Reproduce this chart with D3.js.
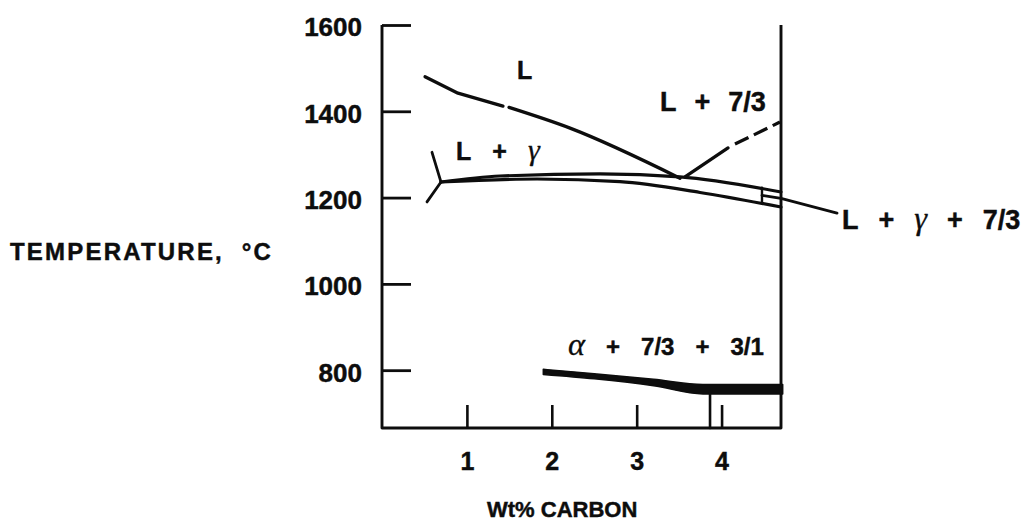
<!DOCTYPE html>
<html>
<head>
<meta charset="utf-8">
<script src="https://cdn.jsdelivr.net/npm/d3@7"></script>
<style>
  html, body { margin: 0; padding: 0; background: #ffffff; }
  svg { display: block; }
  text { font-family: "Liberation Sans", Arial, Helvetica, sans-serif; font-weight: bold; fill: #0d0d0d; stroke: #0d0d0d; stroke-width: 0.45px; }
</style>
</head>
<body>
<div id="chart"></div>
<script>
// ---------------- data ----------------
const xDomain = [0, 4.7];          // Wt% carbon
const yDomain = [666, 1600];       // temperature, °C
const xTicks = [1, 2, 3, 4];
const xTickLabels = ["1", "2", "3", "4"];
const yTicks = [800, 1000, 1200, 1400, 1600];
const yTickLabels = ["800", "1000", "1200", "1400", "1600"];

// liquidus (gamma side), two pieces with a small break
const liquidusGammaA = [[0.507, 1480], [0.895, 1442], [1.425, 1412]];
const liquidusGammaB = [[1.496, 1409], [2.215, 1361], [3.51, 1245]];
// liquidus (7/3 carbide side)
const liquidus73Solid = [[3.569, 1248], [4.076, 1315]];
const liquidus73Dashed = [[4.158, 1324], [4.688, 1375]];
// L + gamma / gamma band boundaries
const bandUpper = [[0.695, 1236], [1.39, 1250], [2.568, 1255], [3.51, 1248], [4.70, 1213]];
const bandLower = [[0.695, 1236], [1.826, 1243], [2.803, 1237], [3.746, 1212], [4.70, 1178]];
// branches at the junction
const branchUp = [[0.695, 1236], [0.589, 1305]];
const branchDown = [[0.695, 1236], [0.530, 1190]];
// three-phase sliver at right, with leader to its label
const sliverEdge = [[4.476, 1223], [4.476, 1187]];
const sliverLeader = [[4.476, 1205], [4.70, 1198], [5.36, 1164]];
// eutectoid (alpha + 7/3 + 3/1) thick band
const eutectoidWt = [1.90, 2.50, 3.20, 3.78, 4.72];
const eutectoidTop = [802, 792, 779, 767, 767];
const eutectoidBottom = [790, 780, 764, 745, 745];
const eutectoidDrop = [[3.864, 746], [3.864, 666]];

// labels
const yAxisTitle = "TEMPERATURE,  °C";
const xAxisTitle = "Wt% CARBON";
const labelL = ["L"];
const labelLGamma = ["L", "+", "γ"];
const labelL73 = ["L", "+", "7/3"];
const labelLGamma73 = ["L", "+", "γ", "+", "7/3"];
const labelAlpha = ["α", "+", "7/3", "+", "3/1"];

// ---------------- drawing ----------------
const W = 1030, H = 524;
const svg = d3.select("#chart").append("svg").attr("width", W).attr("height", H);
svg.append("rect").attr("width", W).attr("height", H).attr("fill", "#ffffff");

const x = d3.scaleLinear().domain(xDomain).range([382, 781]);
const y = d3.scaleLinear().domain(yDomain).range([428, 25]);

const ink = "#0d0d0d";

// y axis ticks (inside) and labels
const gy = svg.append("g").attr("transform", `translate(${x(0)},0)`)
  .call(d3.axisLeft(y).tickValues(yTicks).tickFormat((d, i) => yTickLabels[i])
    .tickSizeInner(-29).tickSizeOuter(0).tickPadding(20));
gy.select(".domain").remove();
gy.selectAll(".tick line").attr("stroke", ink).attr("stroke-width", 2.8);
gy.selectAll(".tick text").attr("dy", "0.42em").style("font-size", "26px")
  .style("font-family", '"Liberation Sans", Arial, sans-serif').style("font-weight", "bold")
  .attr("fill", ink).attr("stroke", ink).attr("stroke-width", 0.45);

// x axis ticks (inside) and labels
const gx = svg.append("g").attr("transform", `translate(0,${y(yDomain[0])})`)
  .call(d3.axisBottom(x).tickValues(xTicks).tickFormat((d, i) => xTickLabels[i])
    .tickSizeInner(-23).tickSizeOuter(0).tickPadding(24));
gx.select(".domain").remove();
gx.selectAll(".tick line").attr("stroke", ink).attr("stroke-width", 2.6);
gx.selectAll(".tick text").style("font-size", "25px")
  .style("font-family", '"Liberation Sans", Arial, sans-serif').style("font-weight", "bold")
  .attr("fill", ink).attr("stroke", ink).attr("stroke-width", 0.45);

// frame: left, bottom, right
svg.append("path")
  .attr("d", `M${x(0)},${y(1600)}V${y(yDomain[0])}H${x(xDomain[1])}V${y(1600)}`)
  .attr("fill", "none").attr("stroke", ink).attr("stroke-width", 2.9).attr("stroke-linejoin", "round");

const line = d3.line().x(d => x(d[0])).y(d => y(d[1]));
const smooth = d3.line().x(d => x(d[0])).y(d => y(d[1])).curve(d3.curveMonotoneX);

function drawPath(data, gen, width, dash) {
  const p = svg.append("path").attr("d", gen(data)).attr("fill", "none")
    .attr("stroke", ink).attr("stroke-width", width)
    .attr("stroke-linecap", "round").attr("stroke-linejoin", "round");
  if (dash) p.attr("stroke-dasharray", dash).attr("stroke-linecap", "butt");
  return p;
}

drawPath(liquidusGammaA, line, 3.3);
drawPath(liquidusGammaB, smooth, 3.3);
drawPath(liquidus73Solid, line, 3.3);
drawPath(liquidus73Dashed, line, 3.3, "15,6");
drawPath(bandUpper, smooth, 3.1);
drawPath(bandLower, smooth, 3.1);
drawPath(branchUp, line, 2.8);
drawPath(branchDown, line, 2.8);
drawPath(sliverEdge, line, 2.4);
drawPath(sliverLeader, line, 2.8);

// eutectoid thick band
const area = d3.area()
  .x((d, i) => x(eutectoidWt[i]))
  .y0((d, i) => y(eutectoidBottom[i]))
  .y1((d, i) => y(eutectoidTop[i]))
  .curve(d3.curveMonotoneX);
svg.append("path").attr("d", area(eutectoidWt))
  .attr("fill", ink).attr("stroke", ink).attr("stroke-width", 1.5).attr("stroke-linejoin", "round");
drawPath(eutectoidDrop, line, 2.6);

// axis titles
svg.append("text").attr("x", 10).attr("y", 260)
  .style("font-size", "24px").style("letter-spacing", "2.2px").style("white-space", "pre")
  .text(yAxisTitle);
svg.append("text").attr("x", 487).attr("y", 517)
  .style("font-size", "22px").text(xAxisTitle);

// phase-field labels
const greek = new Set(["γ", "α"]);
function phaseLabel(tokens, px, py, size, gap, greekScale) {
  const t = svg.append("text").attr("x", px).attr("y", py).style("font-size", size + "px");
  tokens.forEach((tok, i) => {
    const s = t.append("tspan").text(tok);
    if (i > 0) s.attr("dx", gap);
    if (greek.has(tok)) {
      s.style("font-family", '"Liberation Serif", "DejaVu Serif", serif')
        .style("font-style", "italic").style("font-weight", "normal")
        .style("stroke-width", "0.3px")
        .style("font-size", (size * greekScale) + "px");
    }
  });
}
phaseLabel(labelL, 517, 79, 25, 0, 1);
phaseLabel(labelLGamma, 456, 160, 25, 21, 1.2);
phaseLabel(labelL73, 660, 111, 27, 18, 1);
phaseLabel(labelLGamma73, 842, 229, 27, 20, 1.2);
phaseLabel(labelAlpha, 568, 355, 24, 21, 1.35);
</script>
</body>
</html>
